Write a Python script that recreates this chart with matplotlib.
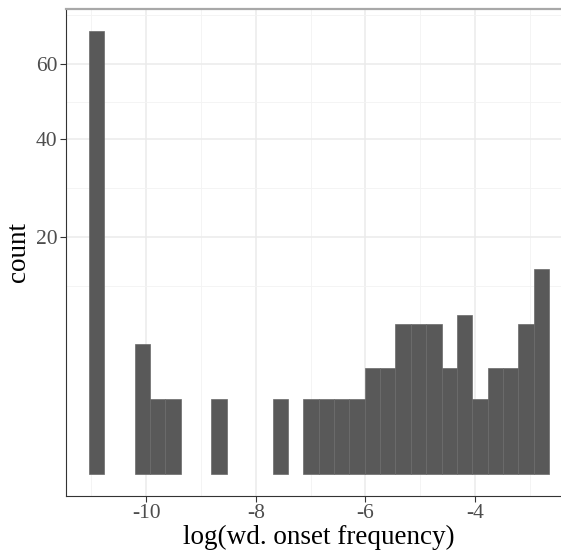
import numpy as np
import matplotlib
matplotlib.use("Agg")
import matplotlib.pyplot as plt
from matplotlib import rcParams

rcParams.update({"font.family": ["Liberation Serif", "DejaVu Serif"],
                 "axes.unicode_minus": False})

# histogram of log(wd. onset frequency), 30 bins
bin_start = -11.052
bin_width = 0.280
counts = [70, 0, 0, 6, 2, 2, 0, 0, 2, 0,
          0, 0, 2, 0, 2, 2, 2, 2, 4, 4,
          8, 8, 8, 4, 9, 2, 4, 4, 8, 15]
x_ticks = [-10, -8, -6, -4]
x_minor = [-11, -9, -7, -5, -3]
y_ticks = [20, 40, 60]


def fwd(v):
    v = np.asarray(v, dtype=float)
    return np.sign(v) * np.sqrt(np.abs(v))


def inv(v):
    v = np.asarray(v, dtype=float)
    return np.sign(v) * v ** 2


def main():
    counts_a = np.array(counts)
    edges = bin_start + bin_width * np.arange(len(counts_a) + 1)
    keep = counts_a > 0

    fig = plt.figure(figsize=(5.61, 5.52), dpi=100)
    ax = fig.add_axes([65.5 / 561, 56 / 552, (572 - 65.5) / 561, 487 / 552])
    ax.set_yscale("function", functions=(fwd, inv))

    ax.bar(edges[:-1][keep], counts_a[keep], width=bin_width, align="edge",
           color="#595959", edgecolor="#6a6a6a", linewidth=0.5, zorder=3)

    # limits with 5% expansion (in sqrt space for y)
    smax = np.sqrt(counts_a.max())
    pad = 0.05 * smax
    ax.set_ylim(-(pad ** 2), (smax + pad) ** 2)
    xr = edges[-1] - edges[0]
    ax.set_xlim(edges[0] - 0.05 * xr, edges[-1] + 0.05 * xr)

    # minor breaks: midpoints in sqrt space, like ggplot
    st = np.sqrt(y_ticks)
    d = st[1] - st[0]
    ext = np.concatenate([[st[0] - d], st, [st[-1] + d]])
    y_minor = ((ext[:-1] + ext[1:]) / 2) ** 2

    ax.set_xticks(x_ticks)
    ax.set_xticks(x_minor, minor=True)
    ax.set_yticks(y_ticks)
    ax.set_yticks(y_minor, minor=True)
    ax.set_xticklabels([str(t) for t in x_ticks])
    ax.set_yticklabels([str(t) for t in y_ticks])

    ax.grid(which="major", color="#ebebeb", linewidth=1.1, zorder=0)
    ax.grid(which="minor", color="#f3f3f3", linewidth=0.6, zorder=0)
    ax.set_axisbelow(True)

    ax.tick_params(which="major", direction="out", length=4, width=0.8,
                   color="#333333", labelsize=15.5, labelcolor="#4d4d4d", pad=2)
    ax.tick_params(which="minor", length=0)

    for s in ["left", "bottom"]:
        ax.spines[s].set_color("#333333")
        ax.spines[s].set_linewidth(0.8)
    ax.spines["top"].set_color("#a8a8a8")
    ax.spines["top"].set_linewidth(1.6)
    ax.spines["right"].set_color("#333333")

    ax.set_xlabel("log(wd. onset frequency)", fontsize=19.5, labelpad=1)
    ax.set_ylabel("count", fontsize=19.5, labelpad=3)

    fig.savefig("out.png", dpi=100)
    plt.close(fig)


if __name__ == "__main__":
    main()
